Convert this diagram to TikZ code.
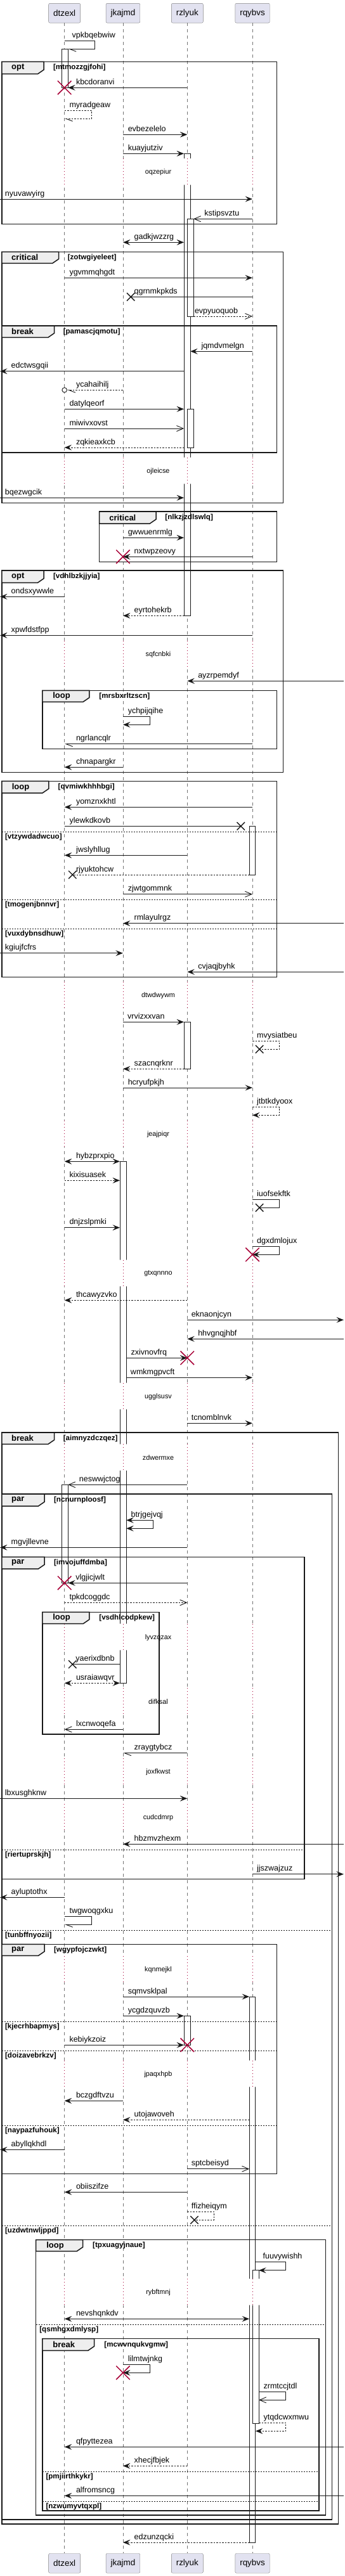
\documentclass[tikz,border=0pt]{standalone}
\usepackage{fontspec}
\setmainfont{Liberation Sans}
\usetikzlibrary{arrows.meta,shapes.misc}
\definecolor{ink}{HTML}{181818}
\definecolor{crim}{HTML}{A80036}
\definecolor{partfill}{HTML}{E2E2F0}
\definecolor{tabfill}{HTML}{EEEEEE}

\begin{document}
\begin{tikzpicture}[
  x=1.0483pt, y=-1pt,
  part/.style={draw=ink!55, fill=partfill, rounded corners=2pt, minimum height=30.7pt, inner xsep=7.5pt, font=\fontsize{13.4}{15}\selectfont},
  life/.style={draw=ink!60, line width=0.8pt, dash pattern=on 5pt off 5pt},
  bar/.style={draw=ink, fill=white, line width=0.9pt},
  pause/.style={draw=crim, line width=0.8pt, dash pattern=on 1pt off 4pt},
  delay/.style={inner sep=0pt, font=\fontsize{10.8}{12}\selectfont},
  lbl/.style={anchor=base west, inner sep=0pt, yshift=5pt, font=\fontsize{12.5}{14}\selectfont},
  wire/.style={draw=ink, line width=0.9pt},
  rwire/.style={wire, dash pattern=on 2.5pt off 2pt},
  fil/.style={-{Stealth[length=11.5pt,width=9pt,inset=4.5pt]}},
  bfil/.style={{Stealth[length=11.5pt,width=9pt,inset=4.5pt]}-{Stealth[length=11.5pt,width=9pt,inset=4.5pt]}},
  opn/.style={-{Straight Barb[length=10.5pt,width=9pt]}},
  hlf/.style={-{Straight Barb[length=10.5pt,width=8pt,left]}},
  lostx/.style={cross out, draw=ink, line width=1.4pt, minimum size=11pt, inner sep=0pt},
  killx/.style={cross out, draw=crim, line width=1.5pt, minimum size=20pt, inner sep=0pt},
  ring/.style={circle, draw=ink, line width=0.9pt, fill=white, minimum size=7.6pt, inner sep=0pt},
  grp/.style={draw=ink, line width=1.5pt},
  tab/.style={draw=ink, fill=tabfill, line width=1.5pt},
  gtitle/.style={anchor=west, inner sep=0pt, font=\bfseries\fontsize{13}{15}\selectfont},
  cond/.style={anchor=west, inner sep=0pt, font=\bfseries\fontsize{11.6}{13}\selectfont},
  sep/.style={draw=ink, line width=0.8pt, dash pattern=on 2pt off 2pt}
]
\useasboundingbox (0,0) rectangle (518,4064);

\node[part] (dt) at (97,20.7) {dtzexl};
\node[part] (jk) at (185,20.7) {jkajmd};
\node[part] (rz) at (281.7,20.7) {rzlyuk};
\node[part] (rq) at (379.7,20.7) {rqybvs};
\node[part] (dtb) at (97,4043.8) {dtzexl};
\node[part] (jkb) at (185,4043.8) {jkajmd};
\node[part] (rzb) at (281.7,4043.8) {rzlyuk};
\node[part] (rqb) at (379.7,4043.8) {rqybvs};

\coordinate (west) at (0,0);
\coordinate (east) at (517,0);
\coordinate (dtR) at (102.3,0);
\coordinate (jkL) at (180.3,0);
\coordinate (jkR) at (190,0);
\coordinate (rzL) at (276.7,0);
\coordinate (rzR) at (286.3,0);
\coordinate (rzRR) at (291,0);
\coordinate (rqL) at (375,0);
\coordinate (rqR) at (384.3,0);
\coordinate (rqRR) at (389.3,0);

\draw[life] (dt.south) -- (dtb.north);
\draw[life] (jk.south) -- (jkb.north);
\draw[life] (rz.south) -- (rzb.north);
\draw[life] (rq.south) -- (rqb.north);

\draw[bar] (92.7,77.3) rectangle (102.3,138.3);
\draw[bar] (276.7,242.3) rectangle (286.3,971.3);
\draw[bar] (281.7,345.3) rectangle (291,499);
\draw[bar] (281.7,645.3) rectangle (291,706);
\draw[bar] (375,1303.3) rectangle (384.3,1380);
\draw[bar] (276.7,1612.3) rectangle (286.3,1686.3);
\draw[bar] (180.3,1832.3) rectangle (190,2655.3);
\draw[bar] (92.7,2342.3) rectangle (102.3,2497.3);
\draw[bar] (375,3150) rectangle (384.3,4011);
\draw[bar] (276.7,3180.3) rectangle (286.3,3226.3);
\draw[bar] (379.7,3581.7) rectangle (389.3,3823);

\foreach \ya/\txt in {250/oqzepiur, 721.7/ojleicse, 1010.7/sqfcnbki, 1548.7/dtwdwywm, 1767.7/jeajpiqr, 1987.7/gtxqnnno, 2181.7/ugglsusv, 2278.3/zdwermxe, 2561.7/lyvzqzax, 2663.3/difksal, 2773.7/joxfkwst, 2845.7/cudcdmrp, 3085.7/kqnmejkl, 3250.7/jpaqxhpb, 3595/rybftmnj} {
  \fill[white] (89,\ya) rectangle (105,\ya+41.6) (177,\ya) rectangle (193,\ya+41.6) (272,\ya) rectangle (294,\ya+41.6) (371,\ya) rectangle (393,\ya+41.6);
  \draw[pause] (dt |- 0,\ya) -- (dt |- 0,\ya+41.6) (jk |- 0,\ya) -- (jk |- 0,\ya+41.6) (rz |- 0,\ya) -- (rz |- 0,\ya+41.6) (rq |- 0,\ya) -- (rq |- 0,\ya+41.6);
  \node[delay] (d-\txt) at (238,\ya+21.6) {\txt};
}

\draw[grp] (2.7,97.3) rectangle (416.3,353.3);
\draw[tab] (2.7,97.3) -- (66,97.3) -- (66,110) -- (56.7,116.7) -- (2.7,116.7) -- cycle;
\node[gtitle] (g-opt1) at (17.2,107) {opt};
\node[cond] (mtmozzgjfohi) at (80,107) {[mtmozzgjfohi]};

\draw[grp] (2.7,397.3) rectangle (426,793.3);
\draw[tab] (2.7,397.3) -- (88.3,397.3) -- (88.3,408.6) -- (79,415.3) -- (2.7,415.3) -- cycle;
\node[gtitle] (g-critical1) at (17.2,406.3) {critical};
\node[cond] (zotwgiyeleet) at (101.7,406.3) {[zotwgiyeleet]};

\draw[grp] (2.7,514) rectangle (416.3,714);
\draw[tab] (2.7,514) -- (81.7,514) -- (81.7,525.6) -- (72.4,532.3) -- (2.7,532.3) -- cycle;
\node[gtitle] (g-break1) at (17.2,523.2) {break};
\node[cond] (pamascjqmotu) at (95,523.2) {[pamascjqmotu]};

\draw[grp] (149.3,807) rectangle (416.3,886.3);
\draw[tab] (149.3,807) -- (234.7,807) -- (234.7,819.3) -- (225.4,826) -- (149.3,826) -- cycle;
\node[gtitle] (g-critical2) at (164.3,816.5) {critical};
\node[cond] (nlkzjzdlswlq) at (248.3,816.5) {[nlkzjzdlswlq]};

\draw[grp] (2.7,900) rectangle (426,1218.3);
\draw[tab] (2.7,900) -- (66,900) -- (66,912.6) -- (56.7,919.3) -- (2.7,919.3) -- cycle;
\node[gtitle] (g-opt2) at (17.2,909.7) {opt};
\node[cond] (vdhlbzkjjyia) at (80,909.7) {[vdhlbzkjjyia]};

\draw[grp] (63.7,1089.3) rectangle (416.3,1181.7);
\draw[tab] (63.7,1089.3) -- (134.3,1089.3) -- (134.3,1100.6) -- (125,1107.3) -- (63.7,1107.3) -- cycle;
\node[gtitle] (g-loop1) at (79.3,1098.3) {loop};
\node[cond] (mrsbxrltzscn) at (149,1098.3) {[mrsbxrltzscn]};

\draw[grp] (2.7,1232.3) rectangle (416.3,1541.7);
\draw[tab] (2.7,1232.3) -- (73.3,1232.3) -- (73.3,1244.3) -- (64,1251) -- (2.7,1251) -- cycle;
\node[gtitle] (g-loop2) at (17.7,1241.7) {loop};
\node[cond] (qvmiwkhhhbgi) at (87.3,1241.7) {[qvmiwkhhhbgi]};
\draw[sep] (2.7,1312.3) -- (416.3,1312.3);
\node[cond] (vtzywdadwcuo) at (7.5,1320.6) {[vtzywdadwcuo]};
\draw[sep] (2.7,1419.3) -- (416.3,1419.3);
\node[cond] (tmogenjbnnvr) at (7.5,1427.6) {[tmogenjbnnvr]};
\draw[sep] (2.7,1465.3) -- (416.3,1465.3);
\node[cond] (vuxdybnsdhuw) at (7.5,1473.6) {[vuxdybnsdhuw]};

\draw[grp] (2.7,2260) rectangle (509,3981.7);
\draw[tab] (2.7,2260) -- (81.7,2260) -- (81.7,2271.6) -- (72.4,2278.3) -- (2.7,2278.3) -- cycle;
\node[gtitle] (g-break2) at (17.2,2269.2) {break};
\node[cond] (aimnyzdczqez) at (95,2269.2) {[aimnyzdczqez]};

\draw[grp] (2.7,2357) rectangle (499.3,3974.7);
\draw[tab] (2.7,2357) -- (67,2357) -- (67,2369.3) -- (57.7,2376) -- (2.7,2376) -- cycle;
\node[gtitle] (g-par1) at (17.2,2366.5) {par};
\node[cond] (ncnurnploosf) at (81,2366.5) {[ncnurnploosf]};
\draw[sep] (2.7,3045.3) -- (499.3,3045.3);
\node[cond] (tunbffnyozii) at (7.5,3053.6) {[tunbffnyozii]};
\draw[sep] (2.7,3511.3) -- (499.3,3511.3);
\node[cond] (uzdwtnwljppd) at (7.5,3519.6) {[uzdwtnwljppd]};

\draw[grp] (2.7,2456.3) rectangle (457.7,2964.3);
\draw[tab] (2.7,2456.3) -- (67,2456.3) -- (67,2468.3) -- (57.7,2475) -- (2.7,2475) -- cycle;
\node[gtitle] (g-par2) at (17.2,2465.7) {par};
\node[cond] (imvojuffdmba) at (81,2465.7) {[imvojuffdmba]};
\draw[sep] (2.7,2918.3) -- (457.7,2918.3);
\node[cond] (riertuprskjh) at (7.5,2926.6) {[riertuprskjh]};

\draw[grp] (63.7,2543.3) rectangle (239.3,2736);
\draw[tab] (63.7,2543.3) -- (134.3,2543.3) -- (134.3,2555) -- (125,2561.7) -- (63.7,2561.7) -- cycle;
\node[gtitle] (g-loop3) at (79.3,2552.5) {loop};
\node[cond] (vsdhlcodpkew) at (149,2552.5) {[vsdhlcodpkew]};

\draw[grp] (2.7,3067.3) rectangle (416.3,3429.3);
\draw[tab] (2.7,3067.3) -- (67,3067.3) -- (67,3078.6) -- (57.7,3085.3) -- (2.7,3085.3) -- cycle;
\node[gtitle] (g-par3) at (17.2,3076.3) {par};
\node[cond] (wgypfojczwkt) at (81,3076.3) {[wgypfojczwkt]};
\draw[sep] (2.7,3189) -- (416.3,3189);
\node[cond] (kjecrhbapmys) at (7.5,3197.3) {[kjecrhbapmys]};
\draw[sep] (2.7,3235) -- (416.3,3235);
\node[cond] (doizavebrkzv) at (7.5,3243.3) {[doizavebrkzv]};
\draw[sep] (2.7,3353.3) -- (416.3,3353.3);
\node[cond] (naypazfuhouk) at (7.5,3361.6) {[naypazfuhouk]};

\draw[grp] (54,3533.7) rectangle (489.7,3967.7);
\draw[tab] (54,3533.7) -- (124.7,3533.7) -- (124.7,3545) -- (115.4,3551.7) -- (54,3551.7) -- cycle;
\node[gtitle] (g-loop4) at (69.7,3542.7) {loop};
\node[cond] (tpxuagyjnaue) at (139.3,3542.7) {[tpxuagyjnaue]};
\draw[sep] (54,3667) -- (489.7,3667);
\node[cond] (qsmhgxdmlysp) at (59.3,3675.3) {[qsmhgxdmlysp]};

\draw[grp] (63.7,3689.7) rectangle (480,3960.7);
\draw[tab] (63.7,3689.7) -- (141.7,3689.7) -- (141.7,3701.6) -- (132.4,3708.3) -- (63.7,3708.3) -- cycle;
\node[gtitle] (g-break3) at (79.3,3699) {break};
\node[cond] (mcwvnqukvgmw) at (156.7,3699) {[mcwvnqukvgmw]};
\draw[sep] (63.7,3899.3) -- (480,3899.3);
\node[cond] (pmjiirthkykr) at (69,3907.6) {[pmjiirthkykr]};
\draw[sep] (63.7,3946.3) -- (480,3946.3);
\node[cond] (nzwumyvtqxpl) at (69,3954.6) {[nzwumyvtqxpl]};

\draw[wire,hlf] (dt |- 0,64.3) -- (142.7,64.3) -- (142.7,77.3) -- (dtR |- 0,77.3);
\node[lbl] (vpkbqebwiw) at (108.3,64.3) {vpkbqebwiw};
\draw[wire,fil] (rz |- 0,138.3) -- (dtR |- 0,138.3);
\node[lbl] (kbcdoranvi) at (114.3,138.3) {kbcdoranvi};
\node[killx] (kbcdoranvi-x) at (dt |- 0,138.3) {};
\draw[rwire,hlf] (dt |- 0,174.3) -- (138,174.3) -- (138,187.3) -- (dt |- 0,187.3);
\node[lbl] (myradgeaw) at (104.3,174.3) {myradgeaw};
\draw[wire,fil] (jk |- 0,212.3) -- (rz |- 0,212.3);
\node[lbl] (evbezelelo) at (192.3,212.3) {evbezelelo};
\draw[wire,fil] (jk |- 0,242.3) -- (rzL |- 0,242.3);
\node[lbl] (kuayjutziv) at (192.3,242.3) {kuayjutziv};
\draw[wire,fil] (west |- 0,314) -- (rq |- 0,314);
\node[lbl] (nyuvawyirg) at (7.3,314) {nyuvawyirg};
\draw[wire,opn] (rq |- 0,345.3) -- (rzRR |- 0,345.3);
\node[lbl] (kstipsvztu) at (307.3,345.3) {kstipsvztu};
\draw[wire,bfil] (jk |- 0,382.3) -- (rzL |- 0,382.3);
\node[lbl] (gadkjwzzrg) at (201.7,382.3) {gadkjwzzrg};
\draw[wire,fil] (dt |- 0,438.3) -- (rq |- 0,438.3);
\node[lbl] (ygvmmqhgdt) at (104.3,438.3) {ygvmmqhgdt};
\node[lostx] (qgrnmkpkds-x) at (196.7,468.3) {};
\draw[wire] (rq |- 0,468.3) -- (qgrnmkpkds-x.center);
\node[lbl] (qgrnmkpkds) at (201.7,468.3) {qgrnmkpkds};
\draw[rwire,opn] (rzRR |- 0,499) -- (rq |- 0,499);
\node[lbl] (evpyuoquob) at (292.7,499) {evpyuoquob};
\draw[wire,fil] (rq |- 0,554.3) -- (rzR |- 0,554.3);
\node[lbl] (jqmdvmelgn) at (302.7,554.3) {jqmdvmelgn};
\draw[wire,fil] (rzL |- 0,585.7) -- (west |- 0,585.7);
\node[lbl] (edctwsgqii) at (16.7,585.7) {edctwsgqii};
\node[ring] (ycahaihilj-o) at (dt |- 0,615.3) {};
\draw[rwire,hlf] (jk |- 0,615.3) -- (ycahaihilj-o.east);
\node[lbl] (ycahaihilj) at (114.3,615.3) {ycahaihilj};
\draw[wire,fil] (dt |- 0,645.3) -- (rzL |- 0,645.3);
\node[lbl] (datylqeorf) at (104.3,645.3) {datylqeorf};
\draw[wire,opn] (dt |- 0,676) -- (rzL |- 0,676);
\node[lbl] (miwivxovst) at (104.3,676) {miwivxovst};
\draw[rwire,fil] (rzL |- 0,706) -- (dt |- 0,706);
\node[lbl] (zqkieaxkcb) at (114.3,706) {zqkieaxkcb};
\draw[wire,fil] (west |- 0,785.3) -- (rzL |- 0,785.3);
\node[lbl] (bqezwgcik) at (7.3,785.3) {bqezwgcik};
\draw[wire,fil] (jk |- 0,848.3) -- (rzL |- 0,848.3);
\node[lbl] (gwwuenrmlg) at (192.3,848.3) {gwwuenrmlg};
\draw[wire,fil] (rq |- 0,878.3) -- (jk |- 0,878.3);
\node[lbl] (nxtwpzeovy) at (201.7,878.3) {nxtwpzeovy};
\node[killx] (nxtwpzeovy-x) at (jk |- 0,878.3) {};
\draw[wire,fil] (dt |- 0,941.3) -- (west |- 0,941.3);
\node[lbl] (ondsxywwle) at (16.7,941.3) {ondsxywwle};
\draw[rwire,fil] (rzL |- 0,971.3) -- (jk |- 0,971.3);
\node[lbl] (eyrtohekrb) at (201.7,971.3) {eyrtohekrb};
\draw[wire,fil] (rq |- 0,1002.3) -- (west |- 0,1002.3);
\node[lbl] (xpwfdstfpp) at (16.7,1002.3) {xpwfdstfpp};
\draw[wire,fil] (east |- 0,1074.3) -- (rz |- 0,1074.3);
\node[lbl] (ayzrpemdyf) at (297.7,1074.3) {ayzrpemdyf};
\draw[wire,fil] (jk |- 0,1130.3) -- (226,1130.3) -- (226,1143.3) -- (jk |- 0,1143.3);
\node[lbl] (ychpijqihe) at (192.3,1130.3) {ychpijqihe};
\draw[wire,hlf] (rq |- 0,1173.7) -- (dt |- 0,1173.7);
\node[lbl] (ngrlancqlr) at (114.3,1173.7) {ngrlancqlr};
\draw[wire,fil] (jk |- 0,1210.3) -- (dt |- 0,1210.3);
\node[lbl] (chnapargkr) at (114.3,1210.3) {chnapargkr};
\draw[wire,fil] (rq |- 0,1273.3) -- (dt |- 0,1273.3);
\node[lbl] (yomznxkhtl) at (114.3,1273.3) {yomznxkhtl};
\node[lostx] (ylewkdkovb-x) at (362.3,1303.3) {};
\draw[wire] (dt |- 0,1303.3) -- (ylewkdkovb-x.center);
\node[lbl] (ylewkdkovb) at (104.3,1303.3) {ylewkdkovb};
\draw[wire,fil] (rz |- 0,1349.3) -- (dt |- 0,1349.3);
\node[lbl] (jwslyhllug) at (114.3,1349.3) {jwslyhllug};
\node[lostx] (rjyuktohcw-x) at (109,1380) {};
\draw[rwire] (rqL |- 0,1380) -- (rjyuktohcw-x.center);
\node[lbl] (rjyuktohcw) at (114.3,1380) {rjyuktohcw};
\draw[wire,opn] (jk |- 0,1410.7) -- (rq |- 0,1410.7);
\node[lbl] (zjwtgommnk) at (192.3,1410.7) {zjwtgommnk};
\draw[wire,fil] (east |- 0,1456.7) -- (jk |- 0,1456.7);
\node[lbl] (rmlayulrgz) at (201.7,1456.7) {rmlayulrgz};
\draw[wire,fil] (west |- 0,1503.7) -- (jk |- 0,1503.7);
\node[lbl] (kgiujfcfrs) at (7.3,1503.7) {kgiujfcfrs};
\draw[wire,fil] (east |- 0,1533.3) -- (rz |- 0,1533.3);
\node[lbl] (cvjaqjbyhk) at (297.7,1533.3) {cvjaqjbyhk};
\draw[wire,fil] (jk |- 0,1612.3) -- (rzL |- 0,1612.3);
\node[lbl] (vrvizxxvan) at (191.7,1612.3) {vrvizxxvan};
\node[lostx] (mvysiatbeu-x) at (390.3,1655.3) {};
\draw[rwire] (rq |- 0,1642.3) -- (420.3,1642.3) -- (420.3,1655.3) -- (mvysiatbeu-x.center);
\node[lbl] (mvysiatbeu) at (386.3,1642.3) {mvysiatbeu};
\draw[rwire,fil] (rzL |- 0,1686.3) -- (jk |- 0,1686.3);
\node[lbl] (szacnqrknr) at (201.7,1686.3) {szacnqrknr};
\draw[wire,fil] (jk |- 0,1716) -- (rq |- 0,1716);
\node[lbl] (hcryufpkjh) at (192.3,1716) {hcryufpkjh};
\draw[rwire,fil] (rq |- 0,1746.7) -- (420.3,1746.7) -- (420.3,1759.3) -- (rq |- 0,1759.3);
\node[lbl] (jtbtkdyoox) at (386.3,1746.7) {jtbtkdyoox};
\draw[wire,bfil] (dt |- 0,1832.3) -- (jkL |- 0,1832.3);
\node[lbl] (hybzprxpio) at (114.3,1832.3) {hybzprxpio};
\draw[rwire,fil] (dt |- 0,1862.3) -- (jkL |- 0,1862.3);
\node[lbl] (kixisuasek) at (104.3,1862.3) {kixisuasek};
\node[lostx] (iuofsekftk-x) at (390.3,1905.3) {};
\draw[wire] (rq |- 0,1892.3) -- (420.3,1892.3) -- (420.3,1905.3) -- (iuofsekftk-x.center);
\node[lbl] (iuofsekftk) at (386.3,1892.3) {iuofsekftk};
\draw[wire,fil] (dt |- 0,1936.7) -- (jkL |- 0,1936.7);
\node[lbl] (dnjzslpmki) at (104.3,1936.7) {dnjzslpmki};
\draw[wire,fil] (rq |- 0,1966.3) -- (420.3,1966.3) -- (420.3,1979.3) -- (rq |- 0,1979.3);
\node[lbl] (dgxdmlojux) at (386.3,1966.3) {dgxdmlojux};
\node[killx] (dgxdmlojux-x) at (rq |- 0,1979.3) {};
\draw[rwire,fil] (rz |- 0,2051.3) -- (dt |- 0,2051.3);
\node[lbl] (thcawyzvko) at (114.3,2051.3) {thcawyzvko};
\draw[wire,fil] (rz |- 0,2082.3) -- (east |- 0,2082.3);
\node[lbl] (eknaonjcyn) at (287.7,2082.3) {eknaonjcyn};
\draw[wire,fil] (east |- 0,2112.3) -- (rz |- 0,2112.3);
\node[lbl] (hhvgnqjhbf) at (297.7,2112.3) {hhvgnqjhbf};
\draw[wire,fil] (jkR |- 0,2142.3) -- (rz |- 0,2142.3);
\node[lbl] (zxivnovfrq) at (197,2142.3) {zxivnovfrq};
\node[killx] (zxivnovfrq-x) at (rz |- 0,2142.3) {};
\draw[wire,fil] (jkR |- 0,2173.3) -- (rq |- 0,2173.3);
\node[lbl] (wmkmgpvcft) at (196.3,2173.3) {wmkmgpvcft};
\draw[wire,fil] (rz |- 0,2245.3) -- (rq |- 0,2245.3);
\node[lbl] (tcnomblnvk) at (287.7,2245.3) {tcnomblnvk};
\draw[wire,opn] (rz |- 0,2342.3) -- (dtR |- 0,2342.3);
\node[lbl] (neswwjctog) at (119,2342.3) {neswwjctog};
\draw[wire,bfil] (jkR |- 0,2398.3) -- (230.3,2398.3) -- (230.3,2411.3) -- (jkR |- 0,2411.3);
\node[lbl] (btrjgejvqj) at (197,2398.3) {btrjgejvqj};
\draw[wire,fil] (rz |- 0,2441.3) -- (west |- 0,2441.3);
\node[lbl] (mgvjllevne) at (16.7,2441.3) {mgvjllevne};
\draw[wire,fil] (rz |- 0,2497.3) -- (dtR |- 0,2497.3);
\node[lbl] (vlgjicjwlt) at (113.7,2497.3) {vlgjicjwlt};
\node[killx] (vlgjicjwlt-x) at (dt |- 0,2497.3) {};
\draw[rwire,opn] (dt |- 0,2528.3) -- (rz |- 0,2528.3);
\node[lbl] (tpkdcoggdc) at (104.3,2528.3) {tpkdcoggdc};
\node[lostx] (yaerixdbnb-x) at (109,2625.7) {};
\draw[wire] (jkL |- 0,2625.7) -- (yaerixdbnb-x.center);
\node[lbl] (yaerixdbnb) at (113.7,2625.7) {yaerixdbnb};
\draw[rwire,bfil] (dt |- 0,2655.3) -- (jkL |- 0,2655.3);
\node[lbl] (usraiawqvr) at (114.3,2655.3) {usraiawqvr};
\draw[wire,opn] (jk |- 0,2728.3) -- (dt |- 0,2728.3);
\node[lbl] (lxcnwoqefa) at (114.3,2728.3) {lxcnwoqefa};
\draw[wire,hlf] (rz |- 0,2765.7) -- (jk |- 0,2765.7);
\node[lbl] (zraygtybcz) at (201.7,2765.7) {zraygtybcz};
\draw[wire,fil] (west |- 0,2837.3) -- (rz |- 0,2837.3);
\node[lbl] (lbxusghknw) at (7.3,2837.3) {lbxusghknw};
\draw[wire,fil] (east |- 0,2909.3) -- (jk |- 0,2909.3);
\node[lbl] (hbzmvzhexm) at (201.7,2909.3) {hbzmvzhexm};
\draw[wire,fil] (rq |- 0,2956.7) -- (east |- 0,2956.7);
\node[lbl] (jjszwajzuz) at (386.3,2956.7) {jjszwajzuz};
\draw[wire,fil] (dt |- 0,2993.3) -- (west |- 0,2993.3);
\node[lbl] (ayluptothx) at (16.7,2993.3) {ayluptothx};
\draw[wire,hlf] (dt |- 0,3023.3) -- (138,3023.3) -- (138,3036.3) -- (dt |- 0,3036.3);
\node[lbl] (twgwoqgxku) at (104.3,3023.3) {twgwoqgxku};
\draw[wire,fil] (jk |- 0,3150) -- (rqL |- 0,3150);
\node[lbl] (sqmvsklpal) at (192.3,3150) {sqmvsklpal};
\draw[wire,fil] (jk |- 0,3180.3) -- (rzL |- 0,3180.3);
\node[lbl] (ycgdzquvzb) at (192.3,3180.3) {ycgdzquvzb};
\draw[wire,fil] (dt |- 0,3226.3) -- (rzL |- 0,3226.3);
\node[lbl] (kebiykzoiz) at (104.3,3226.3) {kebiykzoiz};
\node[killx] (kebiykzoiz-x) at (rz |- 0,3226.3) {};
\draw[wire,fil] (jk |- 0,3314.3) -- (dt |- 0,3314.3);
\node[lbl] (bczgdftvzu) at (114.3,3314.3) {bczgdftvzu};
\draw[rwire,fil] (rqL |- 0,3344.3) -- (jk |- 0,3344.3);
\node[lbl] (utojawoveh) at (201.7,3344.3) {utojawoveh};
\draw[wire,fil] (dt |- 0,3391.3) -- (west |- 0,3391.3);
\node[lbl] (abyllqkhdl) at (16.7,3391.3) {abyllqkhdl};
\draw[wire,opn] (rz |- 0,3421.7) -- (rqL |- 0,3421.7);
\node[lbl] (sptcbeisyd) at (287.7,3421.7) {sptcbeisyd};
\draw[wire,fil] (rz |- 0,3458.3) -- (dt |- 0,3458.3);
\node[lbl] (obiiszifze) at (114.3,3458.3) {obiiszifze};
\node[lostx] (ffizheiqym-x) at (292.3,3502.3) {};
\draw[rwire] (rz |- 0,3489.3) -- (322,3489.3) -- (322,3502.3) -- (ffizheiqym-x.center);
\node[lbl] (ffizheiqym) at (287.7,3489.3) {ffizheiqym};
\draw[wire,fil] (rqR |- 0,3568.7) -- (430,3568.7) -- (430,3581.7) -- (rqRR |- 0,3581.7);
\node[lbl] (fuuvywishh) at (395.3,3568.7) {fuuvywishh};
\draw[wire,bfil] (dt |- 0,3658.3) -- (rqL |- 0,3658.3);
\node[lbl] (nevshqnkdv) at (114.3,3658.3) {nevshqnkdv};
\draw[wire,fil] (jk |- 0,3730.3) -- (226,3730.3) -- (226,3743.3) -- (jk |- 0,3743.3);
\node[lbl] (lilmtwjnkg) at (192.3,3730.3) {lilmtwjnkg};
\node[killx] (lilmtwjnkg-x) at (jk |- 0,3743.3) {};
\draw[wire,opn] (rqRR |- 0,3773.3) -- (430,3773.3) -- (430,3786.3) -- (rqRR |- 0,3786.3);
\node[lbl] (zrmtccjtdl) at (396.3,3773.3) {zrmtccjtdl};
\draw[rwire,fil] (rqRR |- 0,3822.3) -- (430,3822.3) -- (430,3835.3) -- (rqR |- 0,3835.3);
\node[lbl] (ytqdcwxmwu) at (396.3,3822.3) {ytqdcwxmwu};
\draw[wire,fil] (east |- 0,3860.3) -- (dt |- 0,3860.3);
\node[lbl] (qfpyttezea) at (114.3,3860.3) {qfpyttezea};
\draw[rwire,fil] (rz |- 0,3890.3) -- (jk |- 0,3890.3);
\node[lbl] (xhecjfbjek) at (201.7,3890.3) {xhecjfbjek};
\draw[wire,fil] (east |- 0,3937.3) -- (dt |- 0,3937.3);
\node[lbl] (alfromsncg) at (114.3,3937.3) {alfromsncg};
\draw[rwire,fil] (rqL |- 0,4011) -- (jk |- 0,4011);
\node[lbl] (edzunzqcki) at (201.7,4011) {edzunzqcki};
\end{tikzpicture}
\end{document}
